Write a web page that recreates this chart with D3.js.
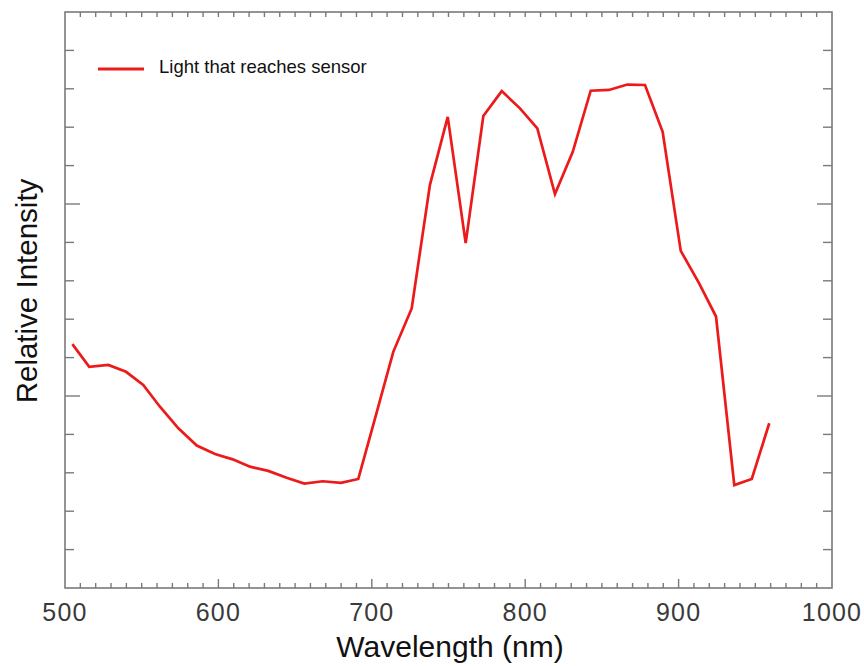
<!DOCTYPE html>
<html>
<head>
<meta charset="utf-8">
<script src="https://cdn.jsdelivr.net/npm/d3@7"></script>
<style>
  html, body { margin: 0; padding: 0; background: #fff; }
  svg { display: block; }
</style>
</head>
<body>
<div id="chart"></div>
<script>
// ---- data ----
const wavelengths = [504.8, 515.8, 528.2, 539.8, 551.0, 561.9, 573.9, 585.9, 597.8, 609.3,
  620.6, 632.5, 644.5, 656.0, 668.0, 679.9, 691.2, 702.7, 714.0, 726.0,
  737.9, 749.5, 761.2, 772.7, 784.7, 796.6, 807.9, 819.4, 831.0, 842.7,
  854.6, 866.6, 878.1, 889.6, 901.4, 913.3, 924.4, 936.3, 947.7, 959.1];
const intensity = [6.35, 5.76, 5.81, 5.63, 5.29, 4.72, 4.16, 3.71, 3.49, 3.35,
  3.16, 3.05, 2.87, 2.72, 2.78, 2.74, 2.84, 4.50, 6.15, 7.28,
  10.50, 12.27, 8.98, 12.29, 12.94, 12.49, 11.97, 10.26, 11.36, 12.95,
  12.97, 13.11, 13.10, 11.88, 8.78, 7.94, 7.07, 2.68, 2.84, 4.29];
const xTickLabels = [500, 600, 700, 800, 900, 1000];
const seriesName = "Light that reaches sensor";
const xTitle = "Wavelength (nm)";
const yTitle = "Relative Intensity";

// ---- layout ----
const W = 864, H = 666;
const pLeft = 65, pRight = 832, pTop = 12, pBottom = 588;
const axisColor = "#7a7a7a";
const lineColor = "#ec1a1a";

const svg = d3.select("#chart").append("svg").attr("width", W).attr("height", H);

const x = d3.scaleLinear().domain([500, 1000]).range([pLeft, pRight]);
const y = d3.scaleLinear().domain([0, 15]).range([pBottom, pTop]);

// frame
svg.append("rect")
  .attr("x", pLeft).attr("y", pTop)
  .attr("width", pRight - pLeft).attr("height", pBottom - pTop)
  .attr("fill", "none").attr("stroke", axisColor).attr("stroke-width", 1.6);

// x ticks (bottom & top), inward
const xMinor = d3.range(510, 1000, 10);
const isMajorX = v => v % 100 === 0;
svg.append("g").selectAll("line").data(xMinor).join("line")
  .attr("x1", d => x(d)).attr("x2", d => x(d))
  .attr("y1", pBottom).attr("y2", d => pBottom - (isMajorX(d) ? 9 : 5))
  .attr("stroke", axisColor).attr("stroke-width", 1.4);
svg.append("g").selectAll("line").data(xMinor).join("line")
  .attr("x1", d => x(d)).attr("x2", d => x(d))
  .attr("y1", pTop).attr("y2", pTop + 5)
  .attr("stroke", axisColor).attr("stroke-width", 1.4);

// x tick labels
svg.append("g").selectAll("text").data(xTickLabels).join("text")
  .attr("x", d => x(d)).attr("y", 621)
  .attr("text-anchor", "middle")
  .attr("font-family", "'Liberation Sans', Arial, sans-serif")
  .attr("font-size", 25).attr("letter-spacing", 1.2)
  .attr("fill", "#3a3a3a")
  .text(d => d);

// y ticks (left & right), inward
const yTicks = d3.range(1, 15, 1);
const isMajorY = v => v % 5 === 0;
svg.append("g").selectAll("line").data(yTicks).join("line")
  .attr("x1", pLeft).attr("x2", d => pLeft + (isMajorY(d) ? 15 : 9))
  .attr("y1", d => y(d)).attr("y2", d => y(d))
  .attr("stroke", axisColor).attr("stroke-width", 1.4);
svg.append("g").selectAll("line").data(yTicks).join("line")
  .attr("x1", pRight).attr("x2", d => pRight - (isMajorY(d) ? 15 : 9))
  .attr("y1", d => y(d)).attr("y2", d => y(d))
  .attr("stroke", axisColor).attr("stroke-width", 1.4);

// data line
const pts = wavelengths.map((w, i) => [w, intensity[i]]);
const line = d3.line().x(d => x(d[0])).y(d => y(d[1]));
svg.append("path").datum(pts)
  .attr("d", line)
  .attr("fill", "none").attr("stroke", lineColor)
  .attr("stroke-width", 2.7).attr("stroke-linejoin", "miter");

// legend
svg.append("line")
  .attr("x1", 98).attr("x2", 144).attr("y1", 69).attr("y2", 69)
  .attr("stroke", lineColor).attr("stroke-width", 2.8);
svg.append("text")
  .attr("x", 159).attr("y", 72.5)
  .attr("font-family", "'Liberation Sans', Arial, sans-serif")
  .attr("font-size", 18.5).attr("fill", "#111")
  .text(seriesName);

// axis titles
svg.append("text")
  .attr("x", 450).attr("y", 657)
  .attr("text-anchor", "middle")
  .attr("font-family", "'Liberation Sans', Arial, sans-serif")
  .attr("font-size", 30).attr("fill", "#111")
  .text(xTitle);
svg.append("text")
  .attr("transform", "translate(37,291) rotate(-90)")
  .attr("text-anchor", "middle")
  .attr("font-family", "'Liberation Sans', Arial, sans-serif")
  .attr("font-size", 29.5).attr("fill", "#111")
  .text(yTitle);
</script>
</body>
</html>
